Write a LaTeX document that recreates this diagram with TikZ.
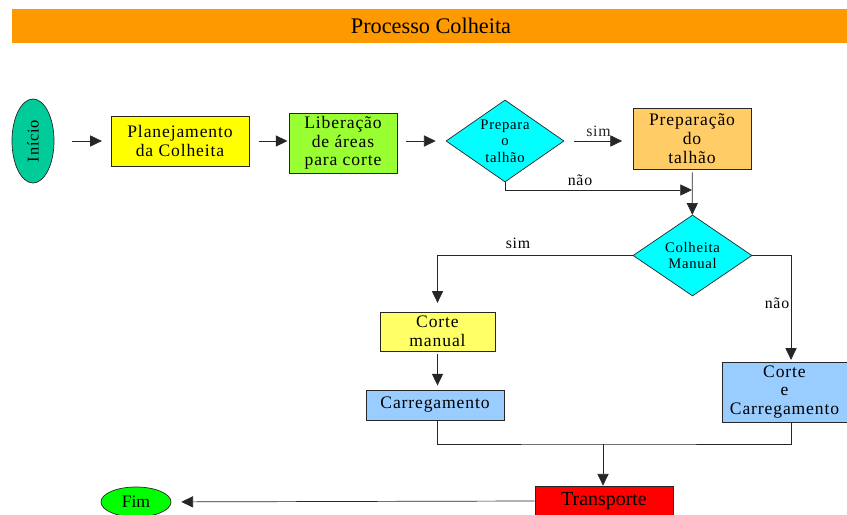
\documentclass[tikz,border=0pt]{standalone}
\usepackage{fontspec}
\setmainfont{Liberation Serif}
\newfontfamily\spacedfont{Liberation Serif}[LetterSpace=5]
\usepackage{tikz}
\usetikzlibrary{calc,arrows.meta}
\usetikzlibrary{shapes.geometric}
\usetikzlibrary{positioning}
\definecolor{fc-line}{HTML}{262626}
\definecolor{fc-title}{HTML}{FF9900}
\definecolor{fc-start}{HTML}{00CC99}
\definecolor{fc-plan}{HTML}{FFFF00}
\definecolor{fc-lib}{HTML}{99FF33}
\definecolor{fc-ask}{HTML}{00FFFF}
\definecolor{fc-prep}{HTML}{FFCC66}
\definecolor{fc-cut}{HTML}{FFFF66}
\definecolor{fc-load}{HTML}{99CCFF}
\definecolor{fc-trans}{HTML}{FF0000}
\definecolor{fc-end}{HTML}{00FF00}

\begin{document}
\begin{tikzpicture}[
    x=0.03cm, y=-0.03cm,
    font=\spacedfont\fontsize{15}{16}\selectfont,
    >={Triangle[length=10pt,width=9.5pt]}
  ]
  \tikzset{
    nodebox/.style={draw=fc-line, line width=0.6pt, align=center, inner sep=0pt},
    decision/.style={diamond, aspect=1.45, draw=fc-line, line width=0.6pt, fill=fc-ask, align=center, inner sep=0pt, font=\spacedfont\fontsize{12.5}{14}\selectfont},
    terminal/.style={ellipse, draw=fc-line, line width=0.6pt, inner sep=0pt},
    arrow/.style={->, fc-line, line width=0.6pt},
    answer/.style={font=\spacedfont\fontsize{13.5}{15}\selectfont}
  }
  \useasboundingbox (0,0) rectangle (847,515);

  % title bar
  \fill[fc-title] (12,9) rectangle (847,43);
  \node (title) at (431,26) {\rmfamily\fontsize{19}{21}\selectfont Processo Colheita};

  % first row
  \node (inicio) [terminal, fill=fc-start, minimum width=1.26cm, minimum height=2.52cm] at (33,141) {\rotatebox{90}{\fontsize{14}{16}\selectfont Início}};
  \node (plan) [nodebox, fill=fc-plan, minimum width=4.14cm, minimum height=1.5cm] at (180,141) {Planejamento\\da Colheita};
  \node (lib) [nodebox, fill=fc-lib, minimum width=3.24cm, minimum height=1.8cm] at (343,143) {Liberação\\de áreas\\para corte};
  \node (prep) [decision, minimum width=3.54cm, minimum height=2.46cm] at (505,141) {Prepara\\o\\talhão};
  \node (preptal) [nodebox, fill=fc-prep, minimum width=3.54cm, minimum height=1.83cm] at (692,138.5) {Preparação\\do\\talhão};

  % harvest choice
  \node (colheita) [decision, minimum width=3.57cm, minimum height=2.43cm] at (692.5,255.5) {Colheita\\Manual};
  \node (corte) [nodebox, fill=fc-cut, minimum width=3.45cm, minimum height=1.17cm] at (437.5,331.5) {Corte\\manual};
  \node (carreg) [nodebox, fill=fc-load, minimum width=4.14cm, minimum height=0.9cm] at (435,405) {Carregamento};
  \node (cortecarreg) [nodebox, fill=fc-load, minimum width=3.75cm, minimum height=1.8cm] at (784.5,392) {Corte\\e\\Carregamento};

  % end
  \node (transp) [nodebox, fill=fc-trans, minimum width=4.14cm, minimum height=0.9cm] at (604,501) {\rmfamily\fontsize{17}{18}\selectfont Transporte};
  \node (fim) [terminal, fill=fc-end, minimum width=2.1cm, minimum height=0.9cm] at (136,502) {\rmfamily\fontsize{15}{16}\selectfont Fim};

  \coordinate (junta) at (692,190);
  \coordinate (uniao) at (603,444);
  \coordinate (direita) at (791,0);

  \draw[arrow, shorten <=15pt, shorten >=7.5pt] (inicio) -- (plan);
  \draw[arrow, shorten <=8.5pt, shorten >=1pt] (plan) -- (lib.west |- plan);
  \draw[arrow, shorten <=7.5pt, shorten >=8.5pt] (lib.east |- prep) -- (prep);
  \draw[arrow, shorten <=8.5pt, shorten >=9pt] (prep.east) -- node[answer, above] {sim} (prep.east -| preptal.west);
  \draw[arrow] (prep.south) |- (junta);
  \node[answer] (nao1) at (580,180) {não};
  \draw[arrow, shorten <=2.5pt] (preptal) -- (colheita);
  \draw[arrow, shorten >=7.5pt] (colheita.west) -| (corte.north);
  \node[answer] (sim2) at (518,243) {sim};
  \draw[arrow, shorten >=1.5pt] (colheita.east) -| (direita |- cortecarreg.north);
  \node[answer] (nao2) at (777,303) {não};
  \draw[arrow, shorten <=2.5pt, shorten >=3.5pt] (corte) -- (corte |- carreg.north);
  \draw[fc-line, line width=0.6pt] (corte |- carreg.south) |- (uniao) -| (direita |- cortecarreg.south);
  \draw[arrow] (uniao) -- (uniao |- transp.north);
  \draw[arrow, shorten >=8.5pt] (transp.west) -- (fim);
\end{tikzpicture}
\end{document}
